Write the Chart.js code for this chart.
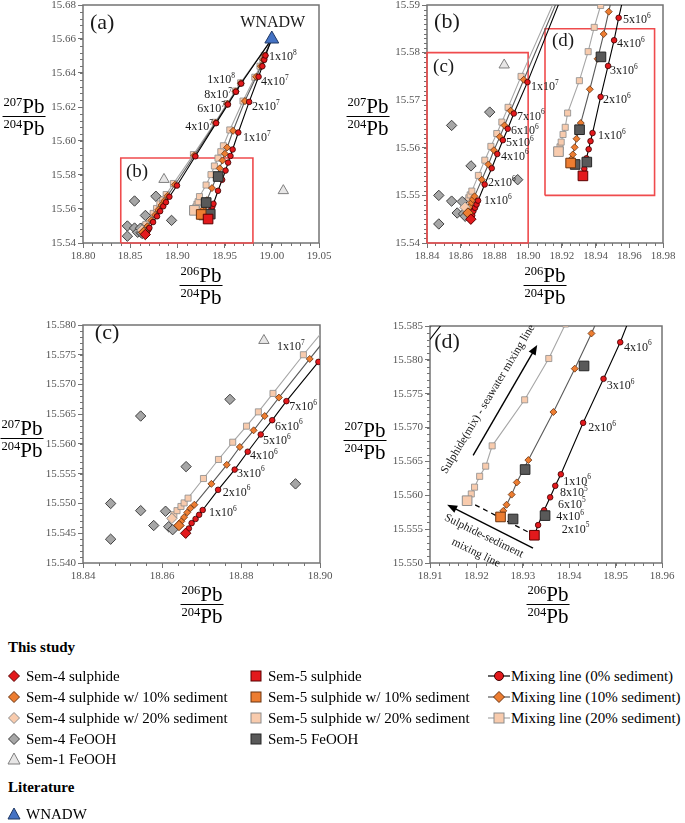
<!DOCTYPE html>
<html>
<head>
<meta charset="utf-8">
<title>Pb isotope mixing</title>
<script src="https://cdn.jsdelivr.net/npm/chart.js@4.4.1/dist/chart.umd.min.js"></script>
<style>
  body { margin:0; width:685px; height:823px; position:relative; overflow:hidden; background:#fff;
         font-family:"Liberation Serif","Times New Roman",serif; color:#000; }
  canvas { position:absolute; }
  .frac { position:absolute; width:0; height:0; font-size:21px; }
  .frac div { position:absolute; left:0; transform:translateX(-50%); white-space:nowrap; line-height:20px; padding:0 1px; }
  .frac .num { bottom:0; border-bottom:1.5px solid #000; }
  .frac .den { top:1px; }
  .frac sup { font-size:12.5px; vertical-align:7px; line-height:0; }
  .lg { position:absolute; font-size:15px; white-space:nowrap; line-height:1; transform:translateY(-50%); }
  svg.mk { position:absolute; transform:translate(-50%,-50%); overflow:visible; }
</style>
</head>
<body>
<script>
// ---- data (206Pb/204Pb, 207Pb/204Pb) ----
const wnadw = [[19.00, 15.66]];
const sem1FeOOH = [[18.8858, 15.5774], [19.0122, 15.5708]];
const sem4FeOOH = [[18.8470, 15.5500], [18.8470, 15.5440], [18.8546, 15.5647], [18.8546, 15.5488],
  [18.8579, 15.5463], [18.8609, 15.5487], [18.8617, 15.5461], [18.8627, 15.5456],
  [18.8661, 15.5562], [18.8772, 15.5675], [18.8938, 15.5533]];
const sem5FeOOH = [[18.9279, 15.5565], [18.9348, 15.5570], [18.9305, 15.5638], [18.9432, 15.5791]];

const sem4Sulphide = [18.8660, 15.5450];
const sem4Sulphide10 = [18.8643, 15.5463];
const sem4Sulphide20 = [18.8625, 15.5475];
const sem5Sulphide = [18.9325, 15.5541];
const sem5Sulphide10 = [18.9252, 15.5568];
const sem5Sulphide20 = [18.9180, 15.5592];

// seawater mixing steps: 2e5..1e6, 2e6..7e6, 1e7, 2e7, 4e7, 6e7, 8e7, 1e8
const sem4Mix0 = [[18.8668, 15.5458], [18.8675, 15.5467], [18.8685, 15.5474], [18.8694, 15.5481], [18.8703, 15.5489],
  [18.8742, 15.5523], [18.8784, 15.5557], [18.8817, 15.5587], [18.8850, 15.5616], [18.8879, 15.5640], [18.8915, 15.5672],
  [18.8996, 15.5738], [18.9190, 15.5910], [18.9410, 15.6105], [18.9535, 15.6215], [18.9620, 15.6290], [18.9675, 15.6338]];
const sem4Mix10 = [[18.8649, 15.5470], [18.8656, 15.5477], [18.8664, 15.5485], [18.8672, 15.5492], [18.8682, 15.5498],
  [18.8725, 15.5533], [18.8764, 15.5565], [18.8797, 15.5595], [18.8832, 15.5623], [18.8860, 15.5647], [18.8896, 15.5678],
  [18.8974, 15.5743], [18.9180, 15.5915], [18.9405, 15.6108], [18.9530, 15.6218], [18.9617, 15.6292], [18.9672, 15.6340]];
const sem4Mix20 = [[18.8630, 15.5481], [18.8638, 15.5488], [18.8648, 15.5495], [18.8656, 15.5501], [18.8666, 15.5509],
  [18.8705, 15.5542], [18.8743, 15.5574], [18.8779, 15.5603], [18.8814, 15.5630], [18.8844, 15.5654], [18.8881, 15.5685],
  [18.8958, 15.5750], [18.9170, 15.5920], [18.9400, 15.6110], [18.9527, 15.6220], [18.9615, 15.6294], [18.9670, 15.6342]];
const sem5Mix0 = [[18.9333, 15.5556], [18.9346, 15.5578], [18.9359, 15.5597], [18.9370, 15.5614], [18.9382, 15.5631],
  [18.9430, 15.5707], [18.9474, 15.5772], [18.9510, 15.5826], [18.9537, 15.5873], [18.9562, 15.5912], [18.9585, 15.5950],
  [18.9645, 15.6050], [18.9760, 15.6230], [18.9860, 15.6378], [18.9900, 15.6440], [18.9920, 15.6478], [18.9933, 15.6503]];
const sem5Mix10 = [[18.9258, 15.5577], [18.9265, 15.5586], [18.9276, 15.5601], [18.9287, 15.5619], [18.9312, 15.5652],
  [18.9366, 15.5723], [18.9412, 15.5787], [18.9448, 15.5839], [18.9478, 15.5886], [18.9503, 15.5925], [18.9527, 15.5962],
  [18.9590, 15.6060], [18.9715, 15.6235], [18.9835, 15.6378], [18.9885, 15.6440], [18.9910, 15.6478], [18.9925, 15.6503]];
const sem5Mix20 = [[18.9189, 15.5602], [18.9196, 15.5612], [18.9207, 15.5628], [18.9220, 15.5643], [18.9234, 15.5673],
  [18.9304, 15.5741], [18.9356, 15.5802], [18.9392, 15.5853], [18.9430, 15.5899], [18.9460, 15.5937], [18.9487, 15.5972],
  [18.9555, 15.6065], [18.9695, 15.6235], [18.9820, 15.6375], [18.9875, 15.6440], [18.9905, 15.6478], [18.9920, 15.6503]];

// zoom boxes [xmin, xmax, ymin, ymax]
const boxB = [18.84, 18.98, 15.54, 15.59];
const boxC = [18.84, 18.90, 15.54, 15.58];
const boxD = [18.91, 18.975, 15.55, 15.585];

// ---- annotations ----
const lab = (x, y, t, s, align, size) => ({ x, y, t, s: s || '', align: align || 'left', size: size || 12 });

const labelsA = [
  lab(18.8074, 15.6694, '(a)', '', 'left', 22), lab(18.8455, 15.5818, '(b)', '', 'left', 19),
  lab(19.001, 15.6694, 'WNADW', '', 'center', 16),
  lab(18.997, 15.6494, '1x10', '8'), lab(18.9886, 15.6347, '4x10', '7'),
  lab(18.979, 15.620, '2x10', '7'), lab(18.9695, 15.6018, '1x10', '7'),
  lab(18.961, 15.6359, '1x10', '8', 'right'), lab(18.9578, 15.6271, '8x10', '7', 'right'),
  lab(18.9504, 15.6188, '6x10', '7', 'right'), lab(18.9377, 15.6082, '4x10', '7', 'right')
];
const labelsB = [
  lab(18.8442, 15.5864, '(b)', '', 'left', 22), lab(18.8436, 15.5770, '(c)', '', 'left', 19),
  lab(18.9141, 15.5824, '(d)', '', 'left', 19),
  lab(18.9563, 15.5868, '5x10', '6'), lab(18.9527, 15.5818, '4x10', '6'), lab(18.9486, 15.5761, '3x10', '6'),
  lab(18.9444, 15.5700, '2x10', '6'), lab(18.9414, 15.5625, '1x10', '6'),
  lab(18.9017, 15.5728, '1x10', '7'), lab(18.8934, 15.5665, '7x10', '6'), lab(18.8898, 15.5635, '6x10', '6'),
  lab(18.8869, 15.5610, '5x10', '6'), lab(18.8839, 15.5581, '4x10', '6'), lab(18.8762, 15.5526, '2x10', '6'),
  lab(18.8738, 15.5488, '1x10', '6')
];
const labelsC = [
  lab(18.843, 15.5787, '(c)', '', 'left', 22),
  lab(18.8891, 15.5763, '1x10', '7'), lab(18.8922, 15.5662, '7x10', '6'), lab(18.8886, 15.5629, '6x10', '6'),
  lab(18.8856, 15.5605, '5x10', '6'), lab(18.8823, 15.5580, '4x10', '6'), lab(18.8790, 15.5550, '3x10', '6'),
  lab(18.8754, 15.5518, '2x10', '6'), lab(18.8719, 15.5484, '1x10', '6')
];
const labelsD = [
  lab(18.9109, 15.5826, '(d)', '', 'left', 22),
  lab(18.9518, 15.5818, '4x10', '6'), lab(18.9481, 15.5761, '3x10', '6'), lab(18.9441, 15.5699, '2x10', '6'),
  lab(18.9387, 15.5620, '1x10', '6'), lab(18.9380, 15.5603, '8x10', '5'), lab(18.9376, 15.5586, '6x10', '5'),
  lab(18.9372, 15.5568, '4x10', '6'), lab(18.9384, 15.5549, '2x10', '5')
];
const arrowsD = [[18.9193, 15.5659, 18.9331, 15.5822], [18.9322, 15.5522, 18.9137, 15.5586]];
const textsD = [
  ['Sulphide(mix) - seawater mixing line', 18.9225, 15.5742, -59],
  ['Sulphide-sediment', 18.9216, 15.5540, 26],
  ['mixing line', 18.9199, 15.5515, 26]
];

// ---- colours ----
const RED = '#e3191c', ORANGE = '#ed7d31', PEACH = '#f8cbad', GREY = '#a6a6a6', DARK = '#595959';
const SERIF = '"Liberation Serif", "Times New Roman", serif';

const toXY = arr => arr.map(([x, y]) => ({ x, y }));
function steps(min, max, step) {
  const n = Math.round((max - min) / step);
  const out = [];
  for (let i = 0; i <= n; i++) out.push(+(min + i * step).toFixed(6));
  return out;
}

function drawSup(ctx, x, y, base, sup, size, align) {
  ctx.font = size + 'px ' + SERIF;
  const bw = ctx.measureText(base).width;
  const ss = size * 0.62;
  ctx.font = ss + 'px ' + SERIF;
  const sw = sup ? ctx.measureText(sup).width : 0;
  const tw = bw + sw;
  const x0 = align === 'right' ? x - tw : align === 'center' ? x - tw / 2 : x;
  ctx.textAlign = 'left';
  ctx.textBaseline = 'middle';
  ctx.font = size + 'px ' + SERIF;
  ctx.fillText(base, x0, y);
  if (sup) {
    ctx.font = ss + 'px ' + SERIF;
    ctx.fillText(sup, x0 + bw, y - size * 0.36);
  }
}

const decor = {
  id: 'decor',
  beforeDatasetsDraw(chart, args, o) {
    const { ctx, chartArea: a, scales: { x, y } } = chart;
    ctx.save();
    ctx.strokeStyle = '#737373';
    ctx.lineWidth = 1;
    ctx.beginPath();
    steps(x.min, x.max, o.minorX).forEach(v => {
      const px = Math.round(x.getPixelForValue(v)) + 0.5;
      ctx.moveTo(px, a.bottom); ctx.lineTo(px, a.bottom + 3);
    });
    steps(y.min, y.max, o.minorY).forEach(v => {
      const py = Math.round(y.getPixelForValue(v)) + 0.5;
      ctx.moveTo(a.left, py); ctx.lineTo(a.left - 3, py);
    });
    ctx.stroke();
    ctx.lineWidth = 1.5;
    ctx.strokeRect(a.left, a.top, a.right - a.left, a.bottom - a.top);
    ctx.restore();
  },
  afterDatasetsDraw(chart, args, o) {
    const { ctx, scales: { x, y } } = chart;
    ctx.save();
    ctx.fillStyle = '#1a1a1a';
    (o.labels || []).forEach(l => drawSup(ctx, x.getPixelForValue(l.x), y.getPixelForValue(l.y), l.t, l.s, l.size, l.align));
    ctx.strokeStyle = '#000';
    ctx.fillStyle = '#000';
    ctx.lineWidth = 1.4;
    (o.arrows || []).forEach(([x1, y1, x2, y2]) => {
      const ax = x.getPixelForValue(x1), ay = y.getPixelForValue(y1);
      const bx = x.getPixelForValue(x2), by = y.getPixelForValue(y2);
      const ang = Math.atan2(by - ay, bx - ax);
      ctx.beginPath(); ctx.moveTo(ax, ay);
      ctx.lineTo(bx - 6 * Math.cos(ang), by - 6 * Math.sin(ang)); ctx.stroke();
      ctx.beginPath();
      ctx.moveTo(bx, by);
      ctx.lineTo(bx - 10 * Math.cos(ang) + 4 * Math.sin(ang), by - 10 * Math.sin(ang) - 4 * Math.cos(ang));
      ctx.lineTo(bx - 10 * Math.cos(ang) - 4 * Math.sin(ang), by - 10 * Math.sin(ang) + 4 * Math.cos(ang));
      ctx.closePath(); ctx.fill();
    });
    ctx.fillStyle = '#1a1a1a';
    ctx.font = '11.5px ' + SERIF;
    ctx.textAlign = 'center';
    ctx.textBaseline = 'middle';
    (o.texts || []).forEach(([t, tx, ty, deg]) => {
      ctx.save();
      ctx.translate(x.getPixelForValue(tx), y.getPixelForValue(ty));
      ctx.rotate(deg * Math.PI / 180);
      ctx.fillText(t, 0, 0);
      ctx.restore();
    });
    ctx.restore();
  }
};

function mixLine(start, pts, line, style, fill, edge, r, order) {
  const data = toXY([start, ...pts, wnadw[0]]);
  const last = data.length - 1;
  return {
    data, showLine: true, borderColor: line, borderWidth: 1.1,
    pointStyle: style, pointBackgroundColor: fill, pointBorderColor: edge, pointBorderWidth: 0.8,
    pointRadius: c => (c.dataIndex === 0 || c.dataIndex === last) ? 0 : r, order
  };
}
const marks = (data, style, fill, edge, r, order) => ({
  data: toXY(data), pointStyle: style, pointRadius: r, pointBackgroundColor: fill,
  pointBorderColor: edge, pointBorderWidth: 1, showLine: false, order
});

function buildDatasets(p) {
  const ds = [];
  p.boxes.forEach(b => ds.push({
    data: toXY([[b[0], b[2]], [b[1], b[2]], [b[1], b[3]], [b[0], b[3]], [b[0], b[2]]]),
    showLine: true, borderColor: '#ef4b4d', borderWidth: 1.6, pointRadius: 0, clip: false, order: 30
  }));
  ds.push(mixLine(sem4Sulphide20, sem4Mix20, '#a6a6a6', 'rect', PEACH, '#8c8c8c', 4.3, 14));
  ds.push(mixLine(sem5Sulphide20, sem5Mix20, '#a6a6a6', 'rect', PEACH, '#8c8c8c', 4.3, 14));
  ds.push(mixLine(sem4Sulphide10, sem4Mix10, '#595959', 'rectRot', ORANGE, '#6b3410', 3.5, 13));
  ds.push(mixLine(sem5Sulphide10, sem5Mix10, '#595959', 'rectRot', ORANGE, '#6b3410', 3.5, 13));
  ds.push(mixLine(sem4Sulphide, sem4Mix0, '#000', 'circle', RED, '#3a0000', 2.8, 12));
  ds.push(mixLine(sem5Sulphide, sem5Mix0, '#000', 'circle', RED, '#3a0000', 2.8, 12));
  if (p.dashed) ds.push({
    data: toXY([sem5Sulphide20, sem5Sulphide]), showLine: true, borderColor: '#000',
    borderDash: [5, 4], borderWidth: 1.3, pointRadius: 0, order: 11
  });
  ds.push(marks(sem4FeOOH, 'rectRot', GREY, '#3f3f3f', 5.2, 6));
  ds.push(marks(sem5FeOOH, 'rect', DARK, '#262626', 6.8, 6));
  ds.push(marks(sem1FeOOH, 'triangle', '#e7e6e6', '#7f7f7f', 6, 6));
  ds.push(marks([sem4Sulphide20], 'rectRot', PEACH, '#8c8c8c', 5.2, 3));
  ds.push(marks([sem4Sulphide10], 'rectRot', ORANGE, '#6b3410', 5.2, 2));
  ds.push(marks([sem4Sulphide], 'rectRot', RED, '#5a0000', 5.2, 1));
  ds.push(marks([sem5Sulphide20], 'rect', PEACH, '#8c8c8c', 6.8, 3));
  ds.push(marks([sem5Sulphide10], 'rect', ORANGE, '#6b3410', 6.8, 2));
  ds.push(marks([sem5Sulphide], 'rect', RED, '#5a0000', 6.8, 1));
  ds.push(marks(wnadw, 'triangle', '#4472c4', '#1f3864', 8, 1));
  return ds;
}

function axis(range, dec, fitKey, fitVal) {
  const [min, max, major] = range;
  return {
    type: 'linear', min, max,
    afterBuildTicks: s => { s.ticks = steps(min, max, major).map(v => ({ value: v })); },
    afterFit: s => { s[fitKey] = fitVal; },
    ticks: { font: { family: SERIF, size: 11 }, color: '#555', padding: 2, callback: v => v.toFixed(dec), maxRotation: 0, autoSkip: false },
    grid: { drawOnChartArea: false, drawTicks: true, tickLength: 5, color: '#737373' },
    border: { display: false }
  };
}

const panels = [
  { area: [83, 5, 319, 243], x: [18.80, 19.05, 0.05, 0.01], y: [15.54, 15.68, 0.02, 0.004], xd: 2, yd: 2,
    boxes: [boxB], labels: labelsA },
  { area: [427, 5, 663, 243], x: [18.84, 18.98, 0.02, 0.005], y: [15.54, 15.59, 0.01, 0.001], xd: 2, yd: 2,
    boxes: [boxC, boxD], labels: labelsB },
  { area: [83, 325, 320, 563], x: [18.84, 18.90, 0.02, 0.004], y: [15.540, 15.580, 0.005, 0.001], xd: 2, yd: 3,
    boxes: [], labels: labelsC },
  { area: [430, 326, 662, 563], x: [18.91, 18.96, 0.01, 0.002], y: [15.550, 15.585, 0.005, 0.001], xd: 2, yd: 3,
    boxes: [], labels: labelsD, dashed: true, arrows: arrowsD, texts: textsD }
];

panels.forEach(p => {
  const [l, t, r, b] = p.area;
  const cv = document.createElement('canvas');
  cv.width = r - l + 110;
  cv.height = b - t + 70;
  cv.style.left = (l - 85) + 'px';
  cv.style.top = (t - 20) + 'px';
  document.body.appendChild(cv);
  new Chart(cv, {
    type: 'scatter',
    data: { datasets: buildDatasets(p) },
    options: {
      responsive: false, animation: false, events: [], devicePixelRatio: 1,
      layout: { padding: { left: 0, top: 20, right: 25, bottom: 0 } },
      scales: { x: axis(p.x, p.xd, 'height', 50), y: axis(p.y, p.yd, 'width', 85) },
      plugins: {
        legend: { display: false }, tooltip: { enabled: false },
        decor: { minorX: p.x[3], minorY: p.y[3], labels: p.labels, arrows: p.arrows, texts: p.texts }
      }
    },
    plugins: [decor]
  });
});

// ---- axis titles (fractions) ----
function frac(x, y, top, bottom) {
  const d = document.createElement('div');
  d.className = 'frac';
  d.style.left = x + 'px';
  d.style.top = y + 'px';
  d.innerHTML = '<div class="num"><sup>' + top + '</sup>Pb</div><div class="den"><sup>' + bottom + '</sup>Pb</div>';
  document.body.appendChild(d);
}
[[24, 117], [368, 117], [22, 439], [365, 441]].forEach(([x, y]) => frac(x, y, 207, 204));
[[201, 286], [545, 286], [202, 605], [548, 605]].forEach(([x, y]) => frac(x, y, 206, 204));

// ---- legend ----
const shapes = {
  diamond: (f, s) => `<polygon points="0,-5.5 5.5,0 0,5.5 -5.5,0" fill="${f}" stroke="${s}" stroke-width="1"/>`,
  square: (f, s) => `<rect x="-5" y="-5" width="10" height="10" fill="${f}" stroke="${s}" stroke-width="1"/>`,
  triangle: (f, s) => `<polygon points="0,-6 6,5 -6,5" fill="${f}" stroke="${s}" stroke-width="1"/>`,
  circle: (f, s) => `<circle r="4.5" fill="${f}" stroke="${s}" stroke-width="1"/>`
};
function legendItem(mx, y, shape, fill, edge, text, line) {
  const svg = document.createElementNS('http://www.w3.org/2000/svg', 'svg');
  svg.setAttribute('class', 'mk');
  svg.setAttribute('width', 22); svg.setAttribute('height', 14);
  svg.setAttribute('viewBox', '-11 -7 22 14');
  svg.style.left = mx + 'px'; svg.style.top = y + 'px';
  svg.innerHTML = (line ? `<line x1="-11" x2="11" y1="0" y2="0" stroke="${line}" stroke-width="1.2"/>` : '') + shapes[shape](fill, edge);
  document.body.appendChild(svg);
  const s = document.createElement('div');
  s.className = 'lg';
  s.style.left = (mx + 12) + 'px';
  s.style.top = y + 'px';
  s.textContent = text;
  document.body.appendChild(s);
}
function heading(x, y, text) {
  const h = document.createElement('div');
  h.className = 'lg';
  h.style.left = x + 'px'; h.style.top = y + 'px'; h.style.fontWeight = 'bold';
  h.textContent = text;
  document.body.appendChild(h);
}
heading(8, 647, 'This study');
legendItem(14, 676, 'diamond', RED, '#5a0000', 'Sem-4 sulphide');
legendItem(14, 697, 'diamond', ORANGE, '#6b3410', 'Sem-4 sulphide w/ 10% sediment');
legendItem(14, 718, 'diamond', PEACH, '#8c8c8c', 'Sem-4 sulphide w/ 20% sediment');
legendItem(14, 739, 'diamond', GREY, '#3f3f3f', 'Sem-4 FeOOH');
legendItem(14, 759, 'triangle', '#e7e6e6', '#7f7f7f', 'Sem-1 FeOOH');
legendItem(256, 676, 'square', RED, '#5a0000', 'Sem-5 sulphide');
legendItem(256, 697, 'square', ORANGE, '#6b3410', 'Sem-5 sulphide w/ 10% sediment');
legendItem(256, 718, 'square', PEACH, '#8c8c8c', 'Sem-5 sulphide w/ 20% sediment');
legendItem(256, 739, 'square', DARK, '#262626', 'Sem-5 FeOOH');
legendItem(499, 676, 'circle', RED, '#3a0000', 'Mixing line (0% sediment)', '#000');
legendItem(499, 697, 'diamond', ORANGE, '#6b3410', 'Mixing line (10% sediment)', '#595959');
legendItem(499, 718, 'square', PEACH, '#8c8c8c', 'Mixing line (20% sediment)', '#a6a6a6');
heading(8, 787, 'Literature');
legendItem(14, 814, 'triangle', '#4472c4', '#1f3864', 'WNADW');
</script>
</body>
</html>
